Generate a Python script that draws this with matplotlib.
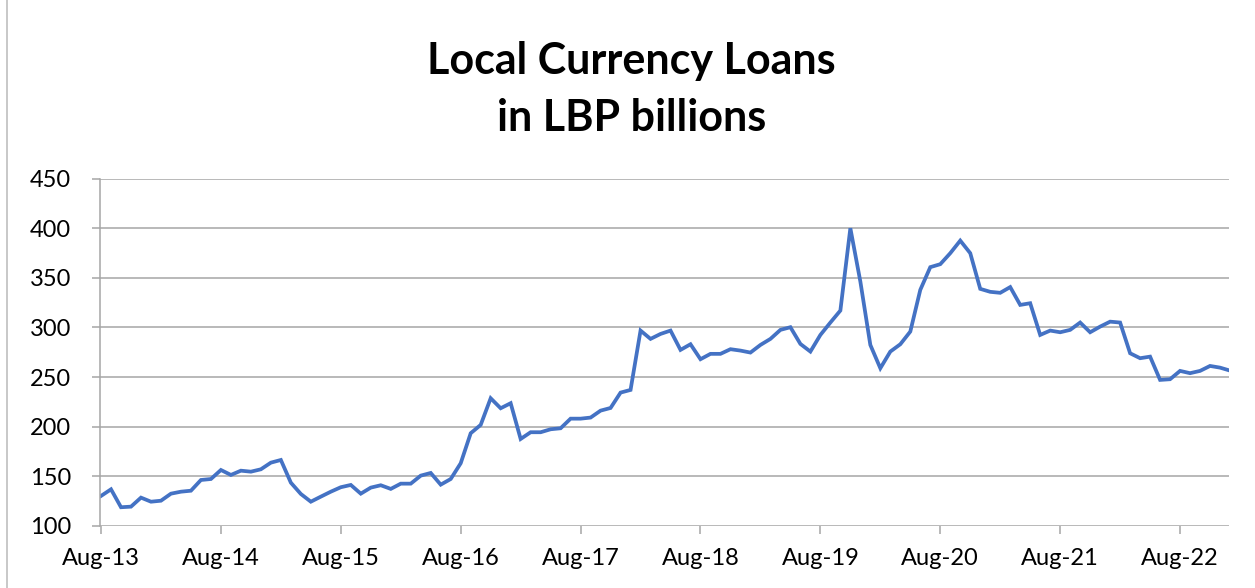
import matplotlib.pyplot as plt
import matplotlib.lines as mlines

plt.rcParams['font.family'] = ['Lato', 'DejaVu Sans']

# monthly series, Aug-13 .. Jan-23 (LBP billions)
loans = [
    130.0, 136.7, 118.6, 119.2, 128.3, 124.2, 125.2, 132.3, 134.3, 135.3, 146.1, 147.1,
    156.2, 151.2, 155.5, 154.5, 156.9, 163.6, 166.3, 143.4, 132.0, 124.2, 129.3, 134.3,
    138.8, 141.1, 132.3, 138.4, 140.8, 137.1, 142.4, 142.4, 150.5, 153.2, 141.4, 147.1,
    163.0, 193.3, 201.7, 228.6, 218.5, 223.6, 187.5, 194.3, 194.3, 197.3, 198.3, 208.0,
    208.0, 209.1, 216.1, 218.8, 234.3, 237.0, 296.9, 288.5, 293.5, 296.9, 277.4, 283.1,
    268.0, 273.4, 273.4, 278.1, 276.7, 274.7, 282.4, 288.5, 297.6, 300.3, 283.4, 275.7,
    292.5, 305.0, 317.1, 400.2, 346.4, 282.4, 258.9, 275.7, 283.1, 295.9, 338.0, 360.9,
    363.9, 375.0, 387.7, 375.0, 339.0, 336.0, 335.0, 340.8, 322.8, 324.5, 292.5, 296.9,
    295.2, 297.6, 305.0, 295.2, 300.9, 305.9, 305.0, 274.0, 269.0, 270.6, 247.1, 247.8,
    256.2, 253.9, 256.2, 261.2, 259.5, 256.5,
]
months = list(range(len(loans)))

tick_months = list(range(0, len(loans), 12))
tick_labels = ['Aug-13', 'Aug-14', 'Aug-15', 'Aug-16', 'Aug-17',
               'Aug-18', 'Aug-19', 'Aug-20', 'Aug-21', 'Aug-22']
y_ticks = [100, 150, 200, 250, 300, 350, 400, 450]

fig = plt.figure(figsize=(12.55, 5.88), dpi=100)
ax = fig.add_axes([0.0797, 0.106, 0.8996, 0.5898])

ax.plot(months, loans, color='#4472C4', linewidth=2.7, solid_joinstyle='miter')

ax.set_xlim(-0.1, 112.9)
ax.set_ylim(100, 450)
ax.set_yticks(y_ticks)
ax.set_xticks(tick_months)
ax.set_xticklabels(tick_labels)

grid_col = '#a6a6a6'
ax.grid(axis='y', color=grid_col, linewidth=1.1)
ax.set_axisbelow(True)
for side in ['top', 'right', 'bottom']:
    ax.spines[side].set_visible(False)
ax.spines['left'].set_color(grid_col)
ax.spines['left'].set_linewidth(1.1)
ax.tick_params(axis='both', colors=grid_col, labelcolor='black', labelsize=17,
               length=6, width=1.1, direction='out')
ax.tick_params(axis='x', pad=10)
ax.tick_params(axis='y', pad=15)

fig.text(0.503, 0.848, 'Local Currency Loans\nin LBP billions', ha='center', va='center',
         fontsize=31, fontweight='bold', linespacing=1.5)

# thin frame line on the left edge
fig.add_artist(mlines.Line2D([7 / 1255, 7 / 1255], [0, 1], color='#bfbfbf', linewidth=1.2))

fig.savefig('out.png', dpi=100)
